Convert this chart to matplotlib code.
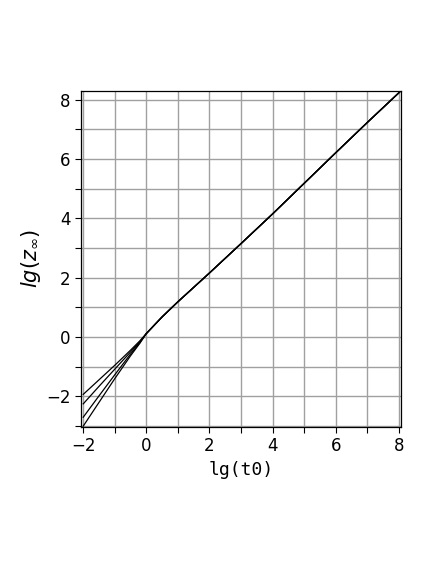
import numpy as np
import matplotlib
matplotlib.use("Agg")
import matplotlib.pyplot as plt

# data
x_low = [-2.0, -1.5, -1.0, -0.5, -0.2, 0.0]
y_low_1 = [-1.93, -1.44, -0.95, -0.44, -0.12, 0.12]
y_low_2 = [-2.25, -1.66, -1.08, -0.50, -0.15, 0.12]
y_low_3 = [-2.70, -1.98, -1.27, -0.57, -0.18, 0.12]
y_low_4 = [-3.00, -2.20, -1.40, -0.63, -0.20, 0.12]

x_high = [0.0, 0.5, 1.0, 2.0, 3.0, 4.0, 5.0, 6.0, 7.0, 8.02]
y_high = [0.12, 0.68, 1.19, 2.16, 3.15, 4.15, 5.18, 6.21, 7.23, 8.25]

xticks = [-2, 0, 2, 4, 6, 8]
yticks = [-2, 0, 2, 4, 6, 8]

fig = plt.figure(figsize=(4.36, 5.64), dpi=100)
ax = fig.add_axes([0.1858, 0.2434, 0.734, 0.5957])

for yl in [y_low_1, y_low_2, y_low_3, y_low_4]:
    ax.plot(x_low + x_high[1:], yl + y_high[1:], color="black", lw=0.9)

ax.set_xlim(-2.07, 8.07)
ax.set_ylim(-3.02, 8.3)
ax.set_xticks(xticks)
ax.set_yticks(yticks)
ax.set_xticks(np.arange(-1, 8, 2), minor=True)
ax.set_yticks(np.arange(-3, 8, 2), minor=True)
ax.grid(True, which="both", color="#a0a0a0", lw=1.0)
ax.set_axisbelow(True)
ax.tick_params(which="both", direction="out", length=4, width=0.8, labelsize=12)
for s in ax.spines.values():
    s.set_linewidth(0.9)

ax.set_xlabel("lg(t0)", family="DejaVu Sans Mono", fontsize=13, labelpad=4)
ax.set_ylabel(r"$lg\left(z_{\infty}\right)$", fontsize=15)
ax.yaxis.set_label_coords(-0.12, 0.5)

fig.savefig("out.png", dpi=100)
